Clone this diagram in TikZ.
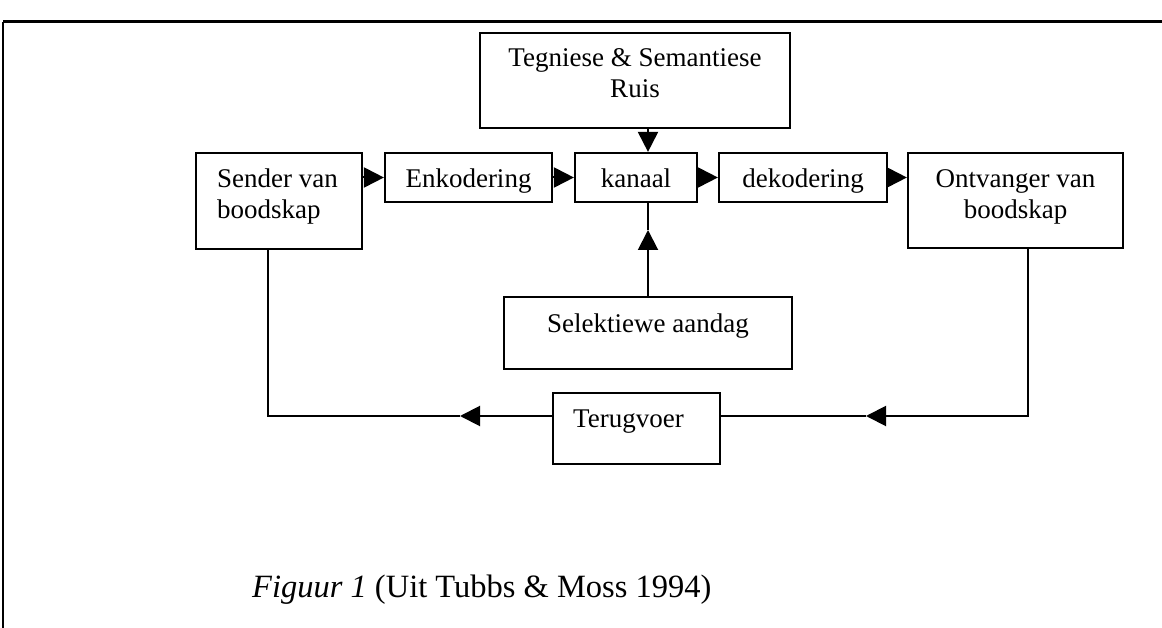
\documentclass[tikz,border=0pt]{standalone}
\usepackage{fontspec}
\setmainfont{Liberation Serif}
\usetikzlibrary{arrows.meta}
\begin{document}
\begin{tikzpicture}[x=1pt,y=-1pt,
  box/.style={draw=black, line width=2.2pt, inner sep=0pt},
  lbl/.style={inner sep=0pt, anchor=base, font=\fontsize{27}{31}\selectfont},
  lbll/.style={lbl, anchor=base west},
  conn/.style={line width=2pt},
  arr/.style={line width=2pt, -{Triangle[length=20pt,width=20pt]}}]
\useasboundingbox (0,0) rectangle (1162,628);
\fill[white] (0,0) rectangle (1162,628);
% outer frame
\draw[line width=3pt] (3,22) -- (1162,22);
\draw[line width=1.5pt] (3,22) -- (3,628);
% boxes
\node[box, minimum width=310pt, minimum height=95pt] (noise) at (635,80.5) {};
\node[box, minimum width=166pt, minimum height=96pt] (sender) at (279,201) {};
\node[box, minimum width=167pt, minimum height=49pt] (enk) at (468.5,177.5) {};
\node[box, minimum width=122pt, minimum height=49pt] (kan) at (636,177.5) {};
\node[box, minimum width=168pt, minimum height=49pt] (dek) at (803,177.5) {};
\node[box, minimum width=215pt, minimum height=95pt] (ont) at (1015.5,200.5) {};
\node[box, minimum width=288pt, minimum height=72pt] (sel) at (648,333) {};
\node[box, minimum width=167pt, minimum height=71pt] (ter) at (636.5,428.5) {};
% texts
\node[lbl] (t1) at (635,67) {Tegniese \& Semantiese};
\node[lbl] (t2) at (635,98) {Ruis};
\node[lbll] (t3) at (217,188) {Sender van};
\node[lbll] (t4) at (217,219) {boodskap};
\node[lbl] (t5) at (468.5,188) {Enkodering};
\node[lbl] (t6) at (636,188) {kanaal};
\node[lbl] (t7) at (803,188) {dekodering};
\node[lbl] (t8) at (1015.5,188) {Ontvanger van};
\node[lbl] (t9) at (1015.5,219) {boodskap};
\node[lbl] (t10) at (648,332) {Selektiewe aandag};
\node[lbll] (t11) at (573,427) {Terugvoer};
\node[inner sep=0pt, anchor=base west, font=\fontsize{32.5}{36}\selectfont] (cap) at (252,597) {\textit{Figuur 1} (Uit Tubbs \& Moss 1994)};
% helper coordinates
\coordinate (selmid) at (648,230);
\coordinate (rtip) at (866,416);
\coordinate (ltip) at (460,416);
\coordinate (rx) at (1028,0);
\coordinate (lx) at (268,0);
% connectors
\draw[arr] (sender.east |- enk.west) -- (enk.west);
\draw[arr] (enk.east) -- (kan.west);
\draw[arr] (kan.east) -- (dek.west);
\draw[arr] (dek.east) -- (ont.west |- dek.east);
\draw[arr] (noise.south -| sel.north) -- (kan.north -| sel.north);
\draw[arr] (sel.north) -- (selmid);
\draw[conn] (selmid) -- (kan.south -| sel.north);
\draw[arr] (ont.south -| rx) |- (rtip);
\draw[conn] (rtip) -- (ter.east |- rtip);
\draw[arr] (ter.west |- ltip) -- (ltip);
\draw[conn] (ltip) -| (sender.south -| lx);
\end{tikzpicture}
\end{document}
